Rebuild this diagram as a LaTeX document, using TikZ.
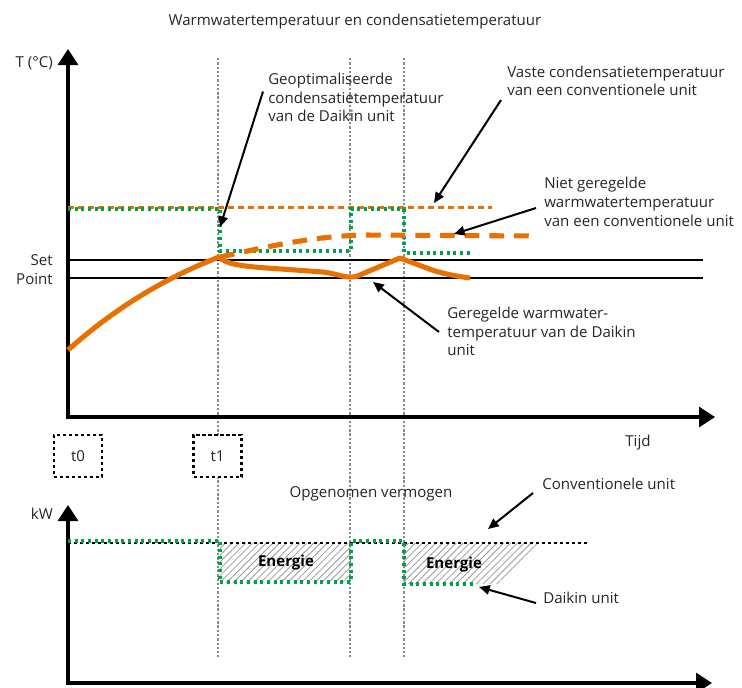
\documentclass[tikz,border=0pt]{standalone}
\usepackage{fontspec}
\setmainfont{Open Sans}
\usetikzlibrary{arrows.meta,patterns.meta}
\definecolor{dkorange}{RGB}{232,112,0}
\definecolor{dkgreen}{RGB}{0,160,80}
\definecolor{vgray}{RGB}{140,140,140}
\begin{document}
\begin{tikzpicture}[x=0.75pt,y=-0.75pt,
  lbl/.style={inner sep=0pt,font=\fontsize{11.3}{14}\selectfont,text=black!85},
  blk/.style={lbl,align=left,anchor=west},
  axis/.style={line width=2.3pt,-{Triangle[width=15pt,length=12pt]}},
  annot/.style={line width=1.5pt,-{Triangle[width=7pt,length=8pt]}},
  vline/.style={vgray,line width=2pt,dash pattern=on 1.8pt off 1.4pt},
  greendot/.style={dkgreen,line width=2.3pt,dash pattern=on 2.3pt off 2.7pt},
  blackdot/.style={black,line width=2pt,dash pattern=on 2.6pt off 1.9pt},
  thinorange/.style={dkorange,line width=1.6pt,dash pattern=on 4.5pt off 3pt},
  thickorange/.style={dkorange,line width=3.8pt},
  tbox/.style={lbl,draw=black,blackdot,text=black!85,fill=white,minimum width=36pt,minimum height=31.5pt},
  hatch/.style={pattern={Lines[angle=45,distance=3.6pt,line width=0.6pt]},pattern color=gray!80},
  setline/.style={line width=1.4pt}]
\useasboundingbox (0,0) rectangle (742,687);
% hatched areas
\fill[hatch] (220,543) rectangle (351,582);
\fill[hatch] (404,543) -- (538,543) -- (497,584) -- (404,584) -- cycle;
% vertical grey dotted lines
\coordinate (v1t) at (218,58); \coordinate (v1b) at (218,657);
\coordinate (v2t) at (350,58); \coordinate (v2b) at (350,657);
\coordinate (v3t) at (404,58); \coordinate (v3b) at (404,657);
\draw[vline] (v1t) -- (v1b);
\draw[vline] (v2t) -- (v2b);
\draw[vline] (v3t) -- (v3b);
% title
\node[lbl] (title) at (355,22) {Warmwatertemperatuur en condensatietemperatuur};
% top axes
\coordinate (o1) at (68,417);
\coordinate (ytop) at (68,49);
\coordinate (xend) at (715,417);
\draw[axis] ([yshift=0.9pt]o1) -- (ytop);
\draw[axis] ([xshift=-1.15pt]o1) -- (xend);
\node[lbl,anchor=east] (Tlab) at (53,63) {T (°C)};
% set point lines
\node[lbl,anchor=east] (set) at (53,260) {Set};
\node[lbl,anchor=east] (point) at (53,279) {Point};
\coordinate (sp1a) at (68,260); \coordinate (sp1b) at (703,260);
\coordinate (sp2a) at (68,278); \coordinate (sp2b) at (703,278);
\draw[setline] (sp1a) -- (sp1b);
\draw[setline] (sp2a) -- (sp2b);
% fixed condensation temperature
\draw[thinorange] (68,207.5) -- (492,207.5);
% optimised condensation temperature (green)
\draw[greendot] (68,209) -- (220,209) -- (220,251) -- (351,251) -- (351,209) -- (404,209) -- (404,253) -- (473,253);
% non-regulated warm water (thick dashed)
\draw[thickorange,dash pattern=on 11pt off 7.5pt] (220,257) .. controls (270,246) and (315,236) .. (365,235) -- (537,236);
% regulated warm water (solid)
\draw[thickorange,line join=round] (68,350) .. controls (115,308) and (165,278) .. (219,257)
  .. controls (226,264) and (240,266) .. (267,268) -- (323,272)
  .. controls (338,274) and (342,277) .. (350,277) .. controls (356,277) and (358,276) .. (362,274)
  -- (400,258) -- (432,270) .. controls (445,274) and (455,276) .. (470,278);
% annotations top
\node[blk] (geo) at (268,97.5) {Geoptimaliseerde\\condensatietemperatuur\\van de Daikin unit};
\coordinate (geoTip) at (220,227);
\draw[annot] ([shift={(-5,-6)}]geo.west) -- (geoTip);
\node[blk] (vaste) at (507,81) {Vaste condensatietemperatuur\\van een conventionele unit};
\coordinate (vasteTip) at (434,203);
\draw[annot] ([shift={(-6,19)}]vaste.west) -- (vasteTip);
\node[blk] (niet) at (544,202) {Niet geregelde\\warmwatertemperatuur\\van een conventionele unit};
\coordinate (nietTip) at (454,234);
\draw[annot] ([shift={(-8,6)}]niet.west) -- (nietTip);
\node[blk] (ger) at (447,331.5) {Geregelde warmwater-\\temperatuur van de Daikin\\unit};
\coordinate (gerTip) at (373,282);
\draw[annot] ([shift={(-8,0.5)}]ger.west) -- (gerTip);
% time boxes
\node[tbox] (t0) at (78,456) {t0};
\node[tbox] (t1) at (217.5,456) {t1};
\node[lbl] (tijd) at (638,443) {Tijd};
% bottom chart
\node[lbl] (opg) at (371,494) {Opgenomen vermogen};
\node[lbl,anchor=east] (kw) at (53,514) {kW};
\coordinate (o2) at (68,683);
\coordinate (ytop2) at (68,505);
\coordinate (xend2) at (712,683);
\draw[axis] ([yshift=0.9pt]o2) -- (ytop2);
\draw[axis] ([xshift=-1.15pt]o2) -- (xend2);
\draw[blackdot] (68,543) -- (589,543);
\draw[greendot] (68,541) -- (220,541) -- (220,582) -- (351,582) -- (351,541) -- (404,541) -- (404,584) -- (473,584);
\node[lbl,font=\fontsize{11.3}{13}\selectfont\bfseries,text=black] (en1) at (286,563) {Energie};
\node[lbl,font=\fontsize{11.3}{13}\selectfont\bfseries,text=black] (en2) at (454,565) {Energie};
\node[lbl,anchor=west] (conv) at (542,484) {Conventionele unit};
\coordinate (convTip) at (488,529);
\draw[annot] ([shift={(-9,9)}]conv.west) -- (convTip);
\node[lbl,anchor=west] (daik) at (543,598) {Daikin unit};
\coordinate (daikTip) at (479,587);
\draw[annot] ([shift={(-7,5)}]daik.west) -- (daikTip);
\end{tikzpicture}
\end{document}
